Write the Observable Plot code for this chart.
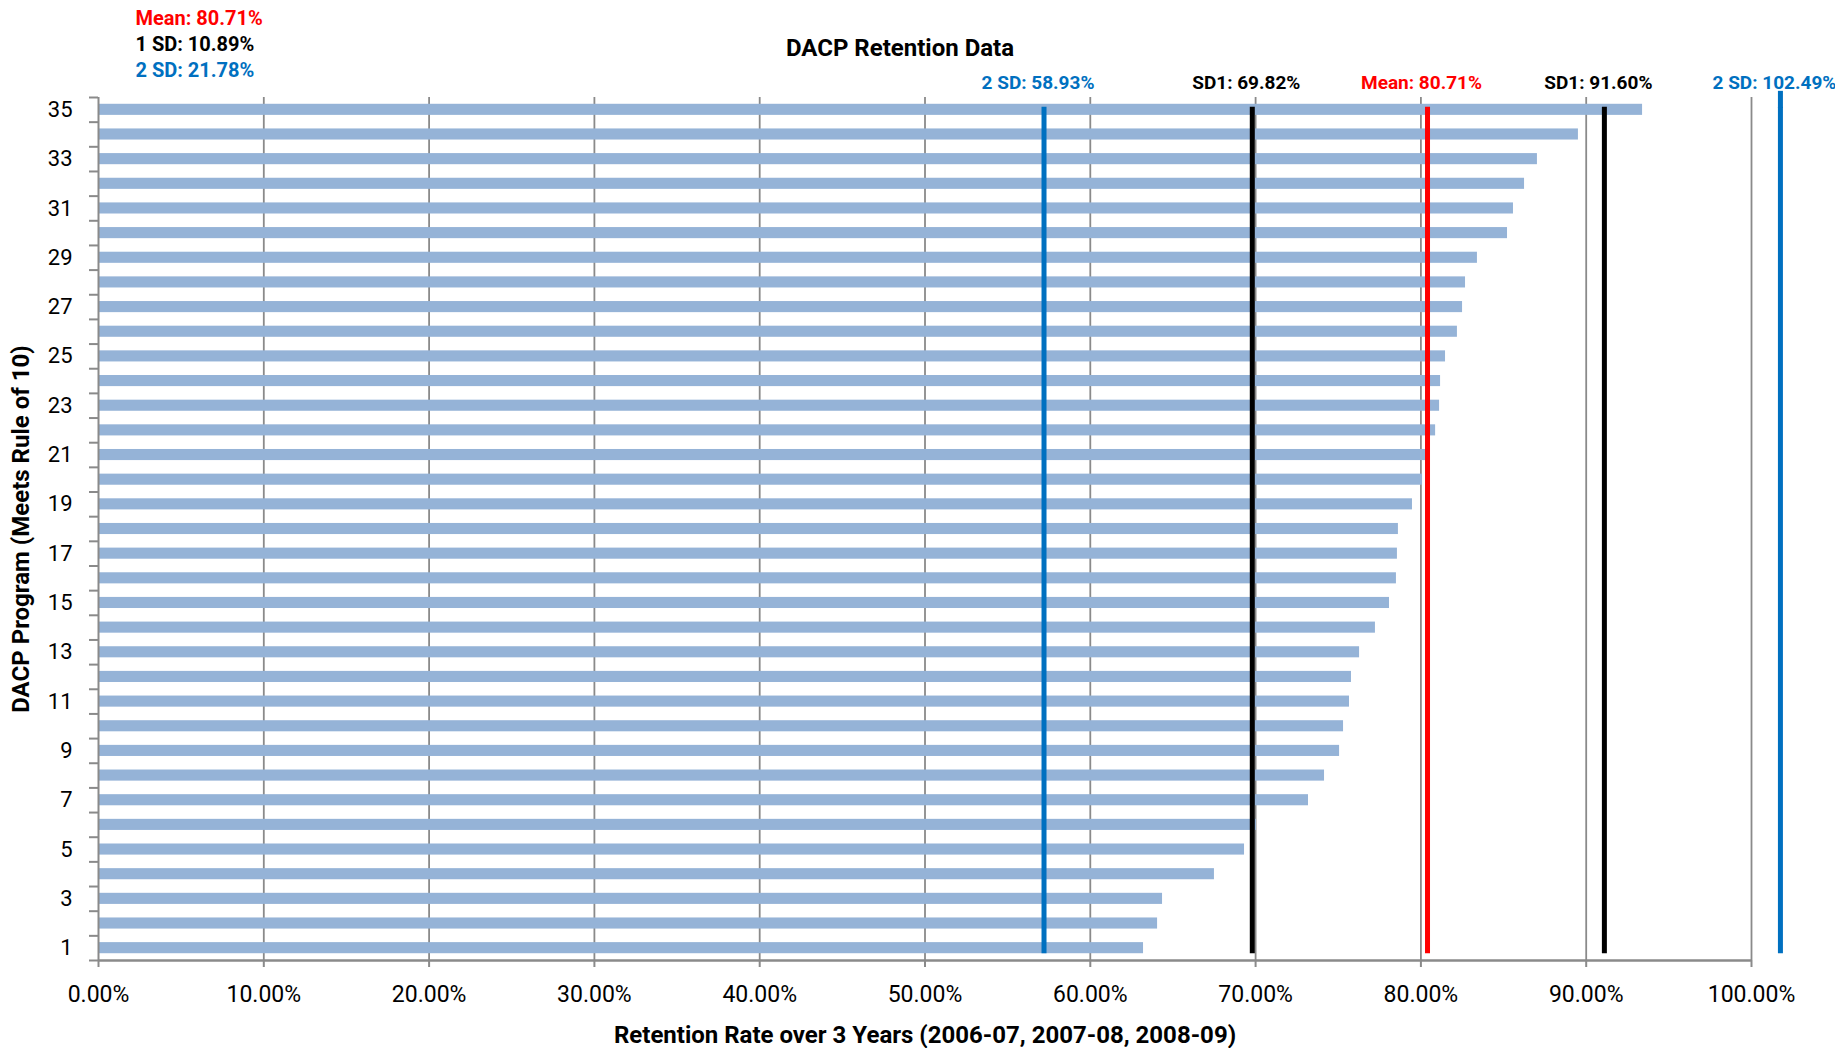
<!DOCTYPE html>
<html><head><meta charset="utf-8">
<script src="https://cdn.jsdelivr.net/npm/d3@7"></script>
<script src="https://cdn.jsdelivr.net/npm/@observablehq/plot@0.6"></script>
<style>
body{margin:0;background:#fff;}
#chart{width:1835px;height:1048px;}
</style>
</head><body><div id="chart"></div>
<script>
// ---- data ----
const programs = [1,2,3,4,5,6,7,8,9,10,11,12,13,14,15,16,17,18,19,20,21,22,23,24,25,26,27,28,29,30,31,32,33,34,35];
const retention = [63.22,64.07,64.37,67.51,69.33,70.05,73.20,74.17,75.08,75.32,75.68,75.80,76.29,77.25,78.10,78.52,78.58,78.64,79.49,80.10,80.28,80.89,81.13,81.19,81.49,82.21,82.52,82.70,83.42,85.24,85.60,86.27,87.05,89.53,93.41];
const xTicks = [0,10,20,30,40,50,60,70,80,90,100];
const yLabelTicks = [1,3,5,7,9,11,13,15,17,19,21,23,25,27,29,31,33,35];
const statNames = ["2 SD","SD1","Mean","SD1","2 SD"];
const statValues = [58.93,69.82,80.71,91.60,102.49];
const statLinePositions = [57.2,69.8,80.4,91.1,101.75];
const summaryNames = ["Mean","1 SD","2 SD"];
const summaryValues = [80.71,10.89,21.78];
const title = "DACP Retention Data";
const xTitle = "Retention Rate over 3 Years (2006-07, 2007-08, 2008-09)";
const yTitle = "DACP Program (Meets Rule of 10)";

// ---- build ----
const rows = programs.map((p,i)=>({program:p, retention:retention[i]}));
const stats = statNames.map((n,i)=>({name:n, value:statValues[i], pos:statLinePositions[i]}));
const summary = summaryNames.map((n,i)=>({name:n, value:summaryValues[i]}));
const boundaries = d3.range(0.5, programs.length + 1, 1);
const half = 0.225;
const grid = "#8a8a8a";
const font = "Roboto, 'Liberation Sans', 'DejaVu Sans', sans-serif";
const colorDomain = ["2 SD","SD1","Mean"];
const colorRange = ["#0070C0","#000000","#FF0000"];
const summaryColor = {"Mean":"#FF0000","1 SD":"#000000","2 SD":"#0070C0"};
const pct = v => v.toFixed(2) + "%";
const lineTop = programs.length + half - 0.12;

const chart = Plot.plot({
  width: 1835, height: 1048,
  marginTop: 97, marginBottom: 88, marginLeft: 98, marginRight: 84,
  style: {fontFamily: font, background: "white", color: "black", overflow: "visible"},
  x: {domain: [0, 100], axis: null},
  y: {domain: [0.5, programs.length + 0.5], axis: null},
  color: {domain: colorDomain, range: colorRange},
  marks: [
    Plot.ruleX(xTicks.slice(1), {stroke: grid, strokeWidth: 1.8}),
    Plot.rectX(rows, {x1: 0, x2: "retention", y1: d => d.program - half, y2: d => d.program + half, fill: "#95B3D7"}),
    Plot.ruleX(stats, {x: "pos", y1: 1 - half, y2: lineTop, stroke: "name", strokeWidth: 5}),
    Plot.ruleX(stats.filter((d,i)=>i===stats.length-1), {x: "pos", y1: lineTop - 0.05, y2: programs.length + 0.75, stroke: "name", strokeWidth: 5}),
    Plot.ruleY([0.5], {stroke: grid, strokeWidth: 2.6}),
    Plot.ruleX([0], {stroke: grid, strokeWidth: 2}),
    Plot.axisX(xTicks, {tickSize: 7, tickPadding: 18, tickFormat: pct, fontSize: 23, stroke: grid, strokeWidth: 2, fill: "black", label: null}),
    Plot.axisY(boundaries, {tickSize: 9, tickFormat: () => "", stroke: grid, strokeWidth: 2, label: null}),
    Plot.axisY(yLabelTicks, {tickSize: 0, tickPadding: 26, fontSize: 22, fill: "black", label: null}),
    Plot.text([title], {frameAnchor: "top", lineAnchor: "middle", dx: -25, dy: -49, fontSize: 24, fontWeight: "bold", fill: "black"}),
    Plot.text([xTitle], {frameAnchor: "bottom", lineAnchor: "middle", dy: 75, fontSize: 24, fontWeight: "bold", fill: "black"}),
    Plot.text([yTitle], {frameAnchor: "left", lineAnchor: "middle", textAnchor: "middle", dx: -77, rotate: -90, fontSize: 24, fontWeight: "bold", fill: "black"}),
    Plot.text(stats, {x: "pos", frameAnchor: "top", lineAnchor: "middle", dx: -6, dy: -15, text: d => `${d.name}: ${pct(d.value)}`, fill: "name", fontSize: 19, fontWeight: "bold"}),
    ...summary.map((d,i) => Plot.text([d], {frameAnchor: "top-left", textAnchor: "start", lineAnchor: "middle", dx: 37, dy: -79 + i * 26,
      text: e => `${e.name}: ${pct(e.value)}`, fill: summaryColor[d.name], fontSize: 20, fontWeight: "bold"}))
  ]
});
document.getElementById("chart").appendChild(chart);
</script>
</body></html>
